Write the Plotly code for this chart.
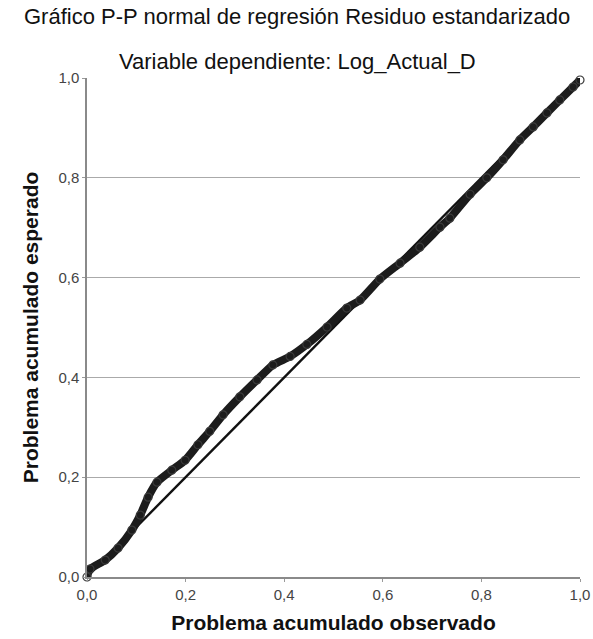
import plotly.graph_objects as go

observed = [0.0, 0.006, 0.037, 0.063, 0.091, 0.108, 0.124, 0.142, 0.172, 0.199, 0.225,
            0.249, 0.276, 0.310, 0.345, 0.377, 0.412, 0.446, 0.487, 0.527, 0.554,
            0.594, 0.635, 0.675, 0.716, 0.736, 0.777, 0.811, 0.844, 0.878, 0.905,
            0.933, 0.959, 0.986, 1.0]
expected = [0.0, 0.016, 0.034, 0.058, 0.094, 0.124, 0.160, 0.190, 0.214, 0.234, 0.265,
            0.292, 0.325, 0.361, 0.395, 0.425, 0.442, 0.466, 0.501, 0.539, 0.555,
            0.597, 0.629, 0.661, 0.701, 0.719, 0.767, 0.800, 0.836, 0.876, 0.902,
            0.930, 0.956, 0.982, 0.996]
diag = [0.0, 1.0]
ticks = [0.0, 0.2, 0.4, 0.6, 0.8, 1.0]

title1 = "Gráfico P-P normal de regresión Residuo estandarizado"
title2 = "Variable dependiente: Log_Actual_D"
xtitle = "Problema acumulado observado"
ytitle = "Problema acumulado esperado"

W, H = 593, 639
L, R, T, B = 87, 13, 78, 62
PW = W - L - R
PH = H - T - B

dark = "#1c1c1c"
fig = go.Figure()
fig.add_trace(go.Scatter(x=diag, y=diag, mode="lines",
                         line=dict(color="#111111", width=2.4),
                         hoverinfo="skip", cliponaxis=False))
fig.add_trace(go.Scatter(x=observed, y=expected, mode="lines",
                         line=dict(color=dark, width=8, shape="spline", smoothing=0.6),
                         cliponaxis=False))
fig.add_trace(go.Scatter(x=observed, y=expected, mode="markers",
                         marker=dict(symbol="circle-open", size=8, color="#3a3a3a",
                                     line=dict(width=1.2, color="#3a3a3a")),
                         cliponaxis=False))

fig.update_layout(
    width=W, height=H,
    margin=dict(l=L, r=R, t=T, b=B, autoexpand=False),
    paper_bgcolor="white", plot_bgcolor="white",
    showlegend=False,
    separators=",.",
    font=dict(family="Liberation Sans, Arial, sans-serif", color="#222222"),
)
fig.add_annotation(text=title1, xref="paper", yref="paper", x=(297 - L) / PW, y=(H - B - 17) / PH,
                   showarrow=False, font=dict(size=22, color="#111111"), xanchor="center", yanchor="middle")
fig.add_annotation(text=title2, xref="paper", yref="paper", x=(297 - L) / PW, y=(H - B - 62) / PH,
                   showarrow=False, font=dict(size=22, color="#111111"), xanchor="center", yanchor="middle")

fig.update_xaxes(range=[0, 1], tickvals=ticks, tickformat=".1f", automargin=False,
                 showgrid=False, zeroline=False,
                 showline=True, linecolor="#8a8a8a", linewidth=1.5,
                 ticks="outside", ticklen=3, tickcolor="#9a9a9a",
                 tickfont=dict(size=15, color="#444444"),
                 title=dict(text="<b>" + xtitle + "</b>", font=dict(size=21, color="#111111"), standoff=14))
fig.update_yaxes(range=[0, 1], tickvals=ticks, tickformat=".1f", automargin=False,
                 showgrid=True, gridcolor="#aaaaaa", gridwidth=1, zeroline=False,
                 showline=True, linecolor="#8a8a8a", linewidth=1.5,
                 ticks="outside", ticklen=3, tickcolor="#9a9a9a",
                 tickfont=dict(size=15, color="#444444"),
                 title=dict(text="<b>" + ytitle + "</b>", font=dict(size=21, color="#111111"), standoff=14))

post = (
    "document.body.style.margin='0';"
    "document.documentElement.style.overflow='hidden';"
    "document.body.style.overflow='hidden';"
)
fig.write_html("out.html", config={"displayModeBar": False}, post_script=post)
